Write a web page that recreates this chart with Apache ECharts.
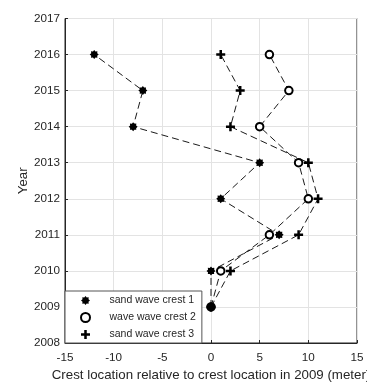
<!DOCTYPE html>
<html><head><meta charset="utf-8">
<script src="https://cdn.jsdelivr.net/npm/echarts@6/dist/echarts.min.js"></script>
<style>html,body{margin:0;padding:0;background:#fff}#c{width:367px;height:383px}</style>
</head><body><div id="c"></div>
<script>
const years = [2009, 2010, 2011, 2012, 2013, 2014, 2015, 2016];
const crest1 = [0, 0, 7, 1, 5, -8, -7, -12];
const crest2 = [0, 1, 6, 10, 9, 5, 8, 6];
const crest3 = [0, 2, 9, 11, 10, 2, 3, 1];
const names = ['sand wave crest 1', 'wave wave crest 2', 'sand wave crest 3'];
const xTicks = [-15, 15, 5];
const yTicks = [2008, 2017, 1];

const starPath = (function(){
  let p = 'path://';
  const n = 8, R = 10, r = 7.2;
  for (let i = 0; i < 2*n; i++) {
    const a = Math.PI * i / n - Math.PI/2;
    const rad = i % 2 === 0 ? R : r;
    p += (i === 0 ? 'M' : 'L') + (R + rad*Math.cos(a)).toFixed(2) + ',' + (R + rad*Math.sin(a)).toFixed(2);
  }
  return p + 'Z';
})();
const plusPath = 'path://M3.6,0H6.4V3.6H10V6.4H6.4V10H3.6V6.4H0V3.6H3.6Z';

function pairs(xs){ return xs.map((x,i)=>[x, years[i]]); }
const ink = '#262626';
const font = 'Liberation Sans, Arial, sans-serif';
const dash = { color: '#000', width: 0.9, type: [7, 4] };

const chart = echarts.init(document.getElementById('c'), null, {renderer:'canvas'});
chart.setOption({
  animation: false,
  backgroundColor: '#fff',
  grid: { left: 65, right: 10, top: 18.5, bottom: 40, show: true, borderColor: ink, borderWidth: 1,
          containLabel: false, outerBoundsMode: 'none' },
  xAxis: {
    type: 'value', min: xTicks[0], max: xTicks[1], interval: xTicks[2],
    name: 'Crest location relative to crest location in 2009 (meter)',
    nameLocation: 'middle', nameGap: 26, nameMoveOverlap: false,
    nameTextStyle: { color: ink, fontSize: 13.3, fontFamily: font },
    axisLine: { show: true, onZero: false, lineStyle: { color: ink } },
    axisTick: { show: true, inside: true, length: 3, lineStyle: { color: ink } },
    axisLabel: { color: ink, fontSize: 11.7, fontFamily: font, margin: 9, formatter: v => String(v) },
    splitLine: { show: true, lineStyle: { color: '#e3e3e3', width: 1 } }
  },
  yAxis: {
    type: 'value', min: yTicks[0], max: yTicks[1], interval: yTicks[2],
    name: 'Year', nameLocation: 'middle', nameGap: 35, nameMoveOverlap: false,
    nameTextStyle: { color: ink, fontSize: 13.3, fontFamily: font },
    axisLine: { show: true, onZero: false, lineStyle: { color: ink } },
    axisTick: { show: true, inside: true, length: 3, lineStyle: { color: ink } },
    axisLabel: { color: ink, fontSize: 11.7, fontFamily: font, margin: 5, formatter: v => String(v) },
    splitLine: { show: true, lineStyle: { color: '#e3e3e3', width: 1 } }
  },
  legend: {
    orient: 'vertical', left: 65, bottom: 40,
    padding: [4, 6, 3, 15], itemGap: 6,
    itemWidth: 26, itemHeight: 9,
    backgroundColor: '#fff', borderColor: '#555', borderWidth: 1,
    textStyle: { color: ink, fontSize: 10.5, fontFamily: font, padding: [0, 0, 0, 6] },
    data: [
      { name: names[0], icon: starPath },
      { name: names[1], icon: 'circle' },
      { name: names[2], icon: plusPath }
    ]
  },
  series: [
    { name: names[0], type: 'line', data: pairs(crest1), symbol: starPath, symbolSize: 9,
      itemStyle: { color: '#000', borderWidth: 0 }, lineStyle: dash, z: 5 },
    { name: names[1], type: 'line', data: pairs(crest2), symbol: 'circle', symbolSize: 7.5,
      itemStyle: { color: '#fff', borderColor: '#000', borderWidth: 2 }, lineStyle: dash, z: 4 },
    { name: names[2], type: 'line', data: pairs(crest3), symbol: plusPath, symbolSize: 9,
      itemStyle: { color: '#000', borderWidth: 0 }, lineStyle: dash, z: 3 }
  ]
});
</script></body></html>
